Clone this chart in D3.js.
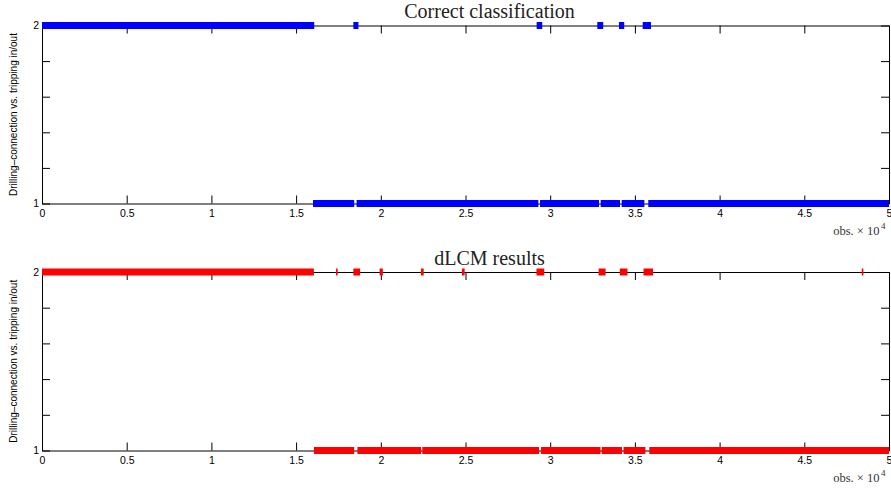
<!DOCTYPE html>
<html>
<head>
<meta charset="utf-8">
<script src="https://cdn.jsdelivr.net/npm/d3@7"></script>
<style>
  html, body { margin: 0; padding: 0; background: #fff; }
  svg { display: block; }
</style>
</head>
<body>
<script>
// ---------- data (x in obs. × 10^4) ----------
const xTicks = [0, 0.5, 1, 1.5, 2, 2.5, 3, 3.5, 4, 4.5, 5];
const xTickLabels = ["0", "0.5", "1", "1.5", "2", "2.5", "3", "3.5", "4", "4.5", "5"];
const yTicks = [1, 1.2, 1.4, 1.6, 1.8, 2];
const yTickLabels = ["1", "", "", "", "", "2"];
const panelTitles = ["Correct classification", "dLCM results"];
const yAxisLabel = "Drilling\u2013connection vs. tripping in/out";
const xAxisLabel = "obs. \u00d7 10";
const xAxisExponent = "4";

// Correct classification: segments of class 2 and class 1
const correctClass2 = [[0, 1.607], [1.838, 1.868], [2.920, 2.953], [3.278, 3.313], [3.406, 3.437], [3.546, 3.595]];
const correctClass1 = [[1.600, 1.843], [1.857, 2.930], [2.940, 3.288], [3.298, 3.412], [3.422, 3.556], [3.579, 5]];

// dLCM results: segments of class 2 and class 1
const dlcmClass2 = [[0, 1.605], [1.736, 1.745], [1.838, 1.878], [1.993, 2.012], [2.237, 2.253], [2.479, 2.495],
                    [2.919, 2.965], [3.286, 3.327], [3.411, 3.456], [3.551, 3.607], [4.840, 4.848]];
const dlcmClass1 = [[1.605, 1.843], [1.862, 2.238], [2.245, 2.934], [2.946, 3.297], [3.304, 3.424], [3.433, 3.562], [3.585, 5]];

// ---------- layout ----------
const W = 891, H = 489;
const svg = d3.select("body").append("svg").attr("width", W).attr("height", H);

const panels = [
  { title: panelTitles[0], c2: correctClass2, c1: correctClass1, color: "#0000ff", top: 25.5, bottom: 203.5 },
  { title: panelTitles[1], c2: dlcmClass2, c1: dlcmClass1, color: "#ff0000", top: 272, bottom: 450.5 }
];

const left = 42, right = 889;
const x = d3.scaleLinear().domain([0, 5]).range([left, right]);
const bandH = 7;
const minW = 1.6;

panels.forEach(p => {
  const y = d3.scaleLinear().domain([1, 2]).range([p.bottom, p.top]);
  const g = svg.append("g");

  const fmtX = d => xTickLabels[xTicks.indexOf(d)];
  const fmtY = d => yTickLabels[yTicks.indexOf(d)];

  g.append("g").attr("transform", `translate(0,${p.bottom})`)
    .call(d3.axisBottom(x).tickValues(xTicks).tickFormat(fmtX).tickSizeInner(-8).tickSizeOuter(0).tickPadding(6))
    .call(a => a.selectAll("text").attr("font-family", "Liberation Sans, Arial, sans-serif").attr("font-size", 10.5).attr("fill", "#000"));
  g.append("g").attr("transform", `translate(0,${p.top})`)
    .call(d3.axisTop(x).tickValues(xTicks).tickFormat("").tickSizeInner(-8).tickSizeOuter(0));
  g.append("g").attr("transform", `translate(${left},0)`)
    .call(d3.axisLeft(y).tickValues(yTicks).tickFormat(fmtY).tickSizeInner(-8).tickSizeOuter(0).tickPadding(3))
    .call(a => a.selectAll("text").attr("font-family", "Liberation Sans, Arial, sans-serif").attr("font-size", 10.5).attr("fill", "#000"));
  g.append("g").attr("transform", `translate(${right},0)`)
    .call(d3.axisRight(y).tickValues(yTicks).tickFormat("").tickSizeInner(-8).tickSizeOuter(0));
  g.selectAll(".domain, .tick line").attr("stroke", "#000").attr("stroke-width", 1);

  const drawSeg = (segs, cls) => {
    g.append("g").selectAll("rect").data(segs).join("rect")
      .attr("x", d => { const w = x(d[1]) - x(d[0]); return w < minW ? (x(d[0]) + x(d[1])) / 2 - minW / 2 : x(d[0]); })
      .attr("width", d => Math.max(minW, x(d[1]) - x(d[0])))
      .attr("y", y(cls) - bandH / 2)
      .attr("height", bandH)
      .attr("fill", p.color);
  };
  drawSeg(p.c2, 2);
  drawSeg(p.c1, 1);

  g.append("text").attr("x", 489.5).attr("y", p.top - 7.5)
    .attr("text-anchor", "middle")
    .attr("font-family", "Liberation Serif, Times New Roman, serif")
    .attr("font-size", 20).attr("fill", "#222")
    .text(p.title);

  g.append("text")
    .attr("transform", `translate(17,${(p.top + p.bottom) / 2}) rotate(-90)`)
    .attr("text-anchor", "middle")
    .attr("font-family", "Liberation Sans, Arial, sans-serif")
    .attr("font-size", 10).attr("fill", "#000")
    .text(yAxisLabel);

  g.append("text").attr("x", 879.5).attr("y", p.bottom + 31.5)
    .attr("text-anchor", "end")
    .attr("font-family", "Liberation Serif, Times New Roman, serif")
    .attr("font-size", 12.5).attr("fill", "#333")
    .text(xAxisLabel);
  g.append("text").attr("x", 881).attr("y", p.bottom + 25.5)
    .attr("font-family", "Liberation Serif, Times New Roman, serif")
    .attr("font-size", 9).attr("fill", "#333")
    .text(xAxisExponent);
});
</script>
</body>
</html>
